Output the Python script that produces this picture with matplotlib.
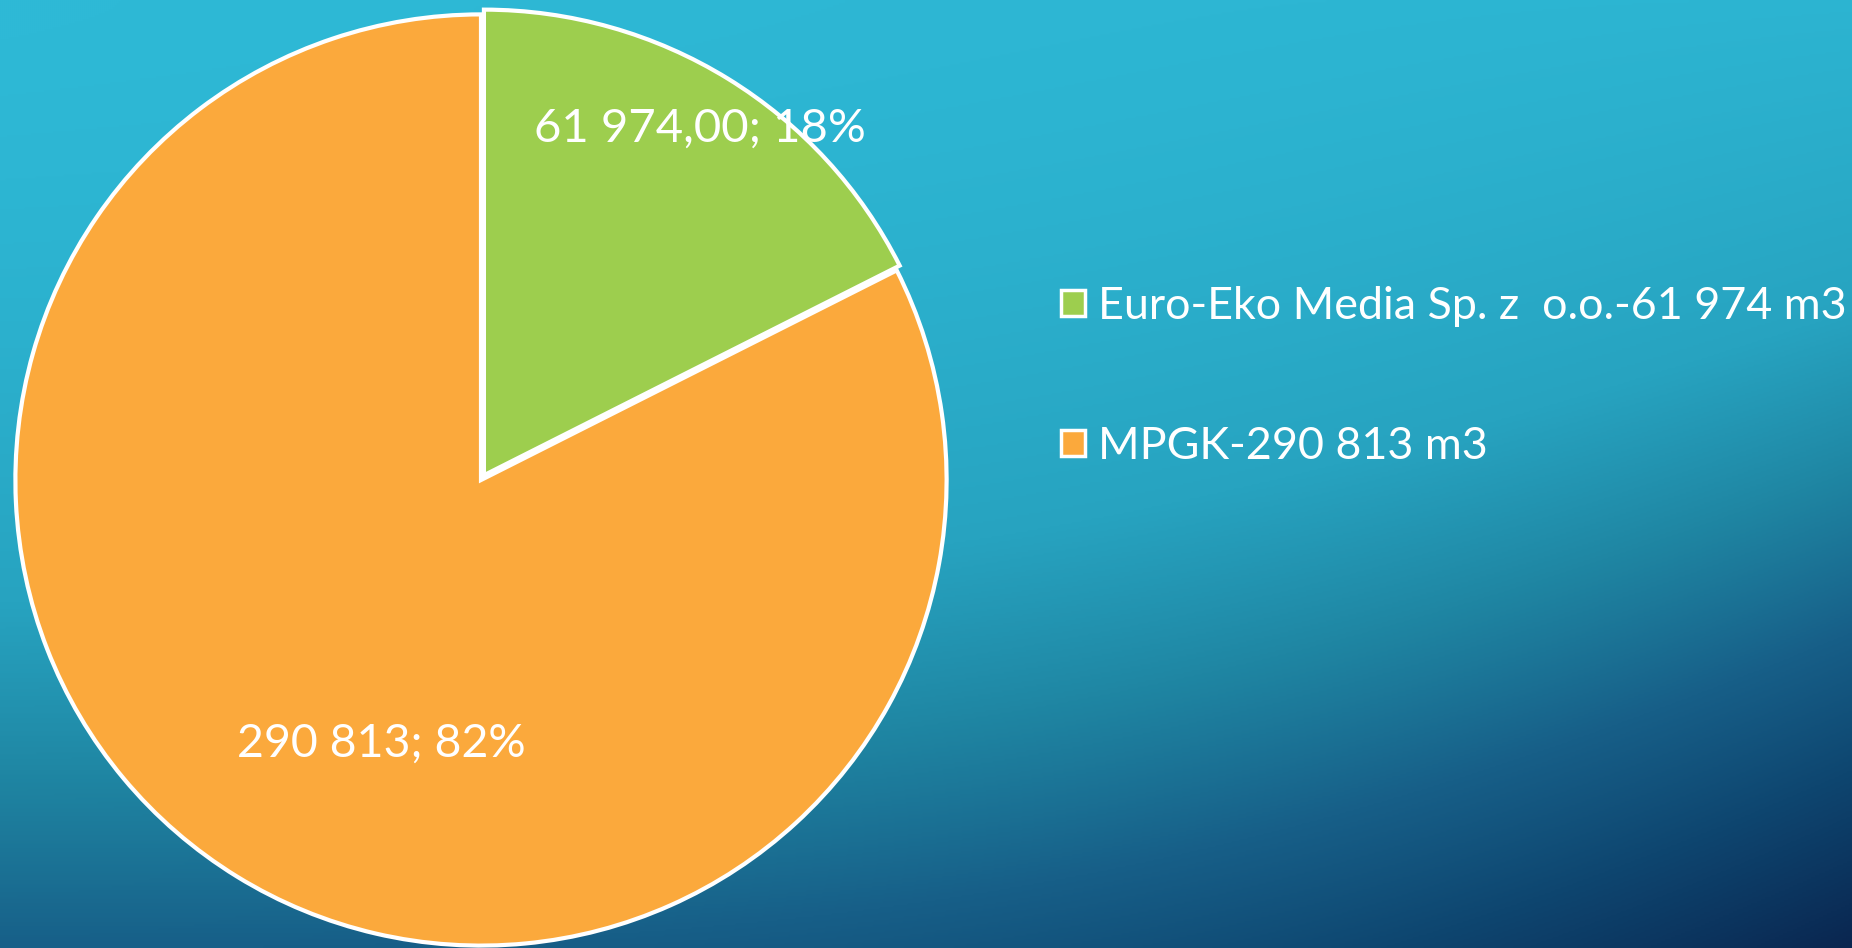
import numpy as np
import matplotlib
matplotlib.use("Agg")
import matplotlib.pyplot as plt
from matplotlib.colors import LinearSegmentedColormap

categories = ["Euro-Eko Media Sp. z  o.o.-61 974 m3", "MPGK-290 813 m3"]
values = [61974, 290813]
data_labels = ["61 974,00; 18%", "290 813; 82%"]
colors = ["#9DCE4E", "#FBA93C"]

plt.rcParams['font.family'] = ['Lato', 'DejaVu Sans']

W, H = 1852, 948
fig = plt.figure(figsize=(W / 100, H / 100), dpi=100)

# background gradient
bg = fig.add_axes([0, 0, 1, 1])
bg.set_axis_off()
yy, xx = np.mgrid[0:1:474j, 0:1:926j]
t = 0.62 * yy ** 1.6 + 0.38 * xx ** 3 * yy ** 0.8 + 0.06 * xx * (1 - yy)
t = np.clip(t, 0, 1)
cmap = LinearSegmentedColormap.from_list(
    "bg", [(0, "#2EB9D6"), (0.3, "#27A3C0"), (0.45, "#1F86A3"),
           (0.62, "#175F88"), (0.78, "#0E4670"), (1.0, "#0A2650")])
bg.imshow(t, cmap=cmap, extent=[0, 1, 1, 0], aspect='auto', vmin=0, vmax=1,
          interpolation='bilinear')
bg.set_xlim(0, 1)
bg.set_ylim(1, 0)

# pie axes
cx, cy, r = 481, 480, 467
ax = fig.add_axes([(cx - r) / W, (H - cy - r) / H, 2 * r / W, 2 * r / H])
ax.set_axis_off()
wedges, _ = ax.pie(values, colors=colors, startangle=90, counterclock=False,
                   explode=[0.012, 0],
                   wedgeprops=dict(edgecolor='white', linewidth=3))
ax.set_xlim(-1.003, 1.003)
ax.set_ylim(-1.003, 1.003)
ax.set_aspect('equal')

# data labels
label_pos = [(0.89, -0.3), (0.605, 10.8)]  # (radius, angular offset)
label_sizes = [34, 33.5]
for w, lab, (rad, off), fs in zip(wedges, data_labels, label_pos, label_sizes):
    ang = np.deg2rad((w.theta1 + w.theta2) / 2 + off)
    ax.text(rad * np.cos(ang), rad * np.sin(ang), lab, color='white',
            fontsize=fs, ha='center', va='center')

# legend
handles = [plt.Rectangle((0, 0), 1, 1, facecolor=c, edgecolor='white', linewidth=2.5) for c in colors]
fig.legend(handles, categories, loc='upper left', bbox_to_anchor=(1061 / W, 1 - 286 / H),
           frameon=False, fontsize=32.3, labelcolor='white', handlelength=0.53, handleheight=0.53,
           handletextpad=0.3, labelspacing=2.2, borderpad=0, borderaxespad=0)

fig.savefig("out.png", dpi=100)
